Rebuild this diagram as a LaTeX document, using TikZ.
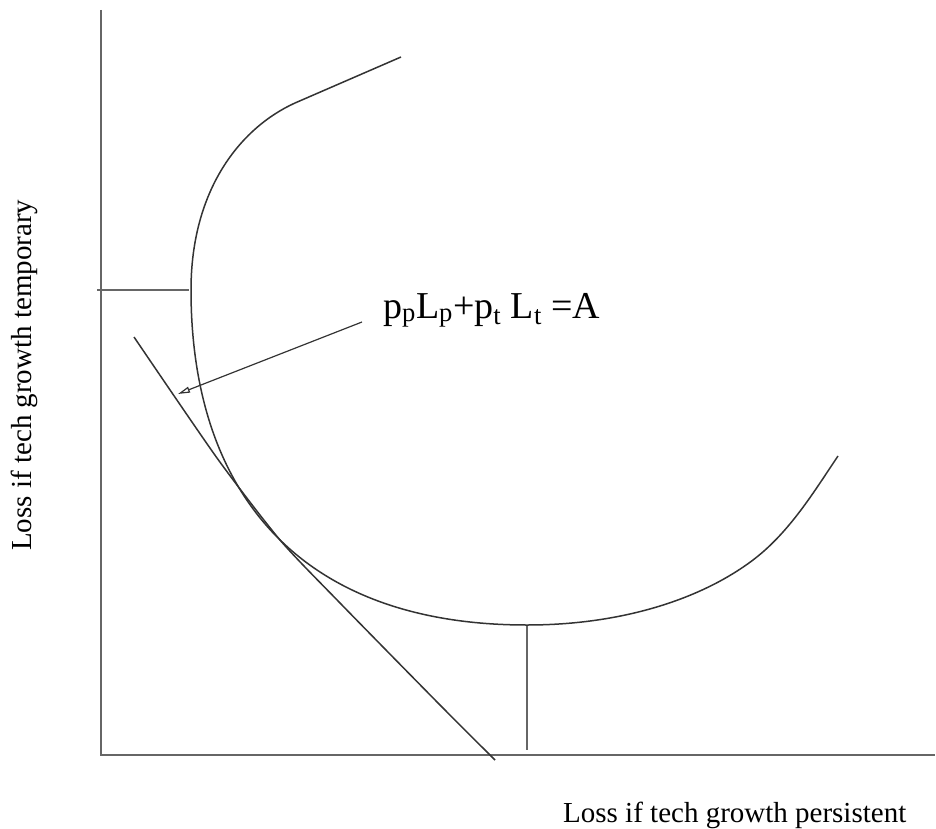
\documentclass[tikz,border=0pt]{standalone}
\usepackage{fontspec}
\setmainfont{Liberation Serif}
\usetikzlibrary{arrows.meta}
\begin{document}
\begin{tikzpicture}[x=1pt,y=-1pt,
  axisline/.style={line width=1.4pt,draw=black!60},
  curveline/.style={line width=1.5pt,draw=black!80},
  lbl/.style={inner sep=0pt,font=\fontsize{29}{31}\selectfont},
  eqlbl/.style={inner sep=0pt,font=\fontsize{38}{42}\selectfont}]
\useasboundingbox (0,0) rectangle (936,829);
% axes
\coordinate (O) at (101,755);
\coordinate (ytop) at (101,10);
\coordinate (xend) at (935,755);
\draw[axisline] (ytop) -- (O) -- (xend);
% guide lines
\coordinate (hA) at (97,290);
\coordinate (hB) at (189,290);
\draw[axisline] (hA) -- (hB);
\coordinate (vA) at (527,626);
\coordinate (vB) at (527,750);
\draw[axisline] (vA) -- (vB);
% main curve
\coordinate (c0) at (401,57);
\coordinate (c1) at (295,103);
\coordinate (c2) at (191,290);
\coordinate (c3) at (527,625);
\coordinate (c4) at (753,560);
\coordinate (c5) at (838,456);
\draw[curveline] (c0) -- (c1)
  .. controls (240,128) and (191,190) .. (c2)
  .. controls (191,490) and (297,625) .. (c3)
  .. controls (620,625) and (700,600) .. (c4)
  .. controls (790,532) and (815,490) .. (c5);
% tangent line
\draw[curveline] plot[smooth,tension=0.4] coordinates {
 (134,337) (217,458) (280,540) (340,603) (440,705) (495,760)};
% label and arrow
\node[eqlbl,anchor=base west] (eq) at (383,318)
  {p\textsubscript{p}L\textsubscript{p}+p\textsubscript{t} L\textsubscript{t} =A};
\coordinate (arrS) at (362,322);
\coordinate (arrE) at (178,394);
\draw[curveline,line width=1.2pt,-{Triangle[open,length=12pt,width=6pt]}] (arrS) -- (arrE);
% axis labels
\node[lbl,anchor=base west] (xl) at (563,822) {Loss if tech growth persistent};
\node[lbl,anchor=base west,rotate=90] (yl) at (31,551) {Loss if tech growth temporary};
\end{tikzpicture}
\end{document}
